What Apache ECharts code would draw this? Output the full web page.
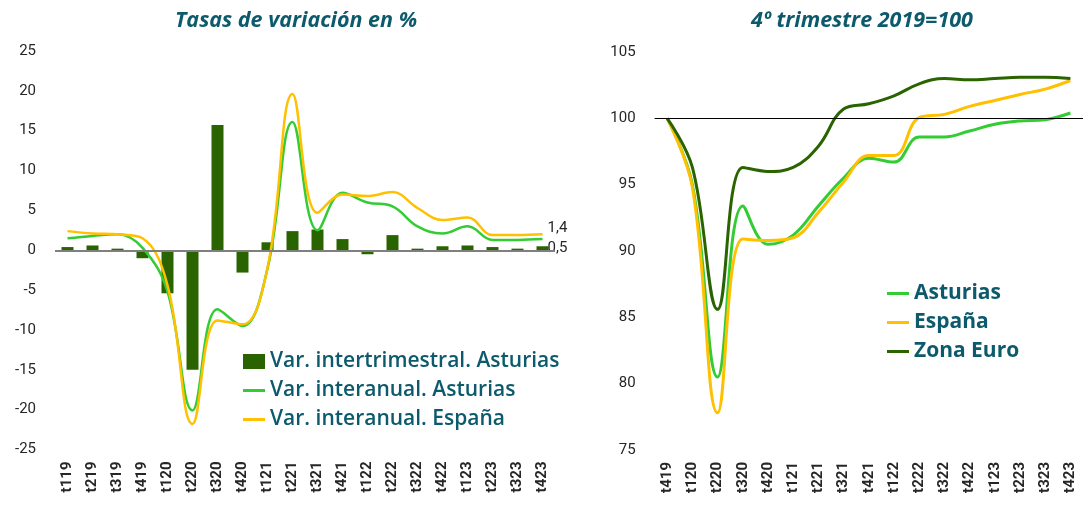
<!DOCTYPE html>
<html>
<head>
<meta charset="utf-8">
<script src="https://cdn.jsdelivr.net/npm/echarts@6/dist/echarts.min.js"></script>
<style>
html,body{margin:0;padding:0;background:#fff;}
#chart{width:1083px;height:507px;}
</style>
</head>
<body>
<div id="chart"></div>
<script>
// ---- Left chart data ----
const leftCategories = ['t119','t219','t319','t419','t120','t220','t320','t420','t121','t221','t321','t421','t122','t222','t322','t422','t123','t223','t323','t423'];
const varIntertrimAsturias = [0.4,0.6,0.2,-1.0,-5.4,-15.0,15.7,-2.8,1.0,2.4,2.6,1.4,-0.5,1.9,0.2,0.5,0.6,0.4,0.2,0.5];
const varInteranualAsturias = [1.5,1.8,2.0,0.3,-5.2,-20.1,-7.4,-9.5,-2.3,16.1,2.5,7.2,6.0,5.5,3.0,2.1,3.0,1.3,1.3,1.4];
const varInteranualEspana = [2.4,2.1,2.0,1.5,-4.4,-21.8,-8.8,-9.3,-2.2,19.6,4.7,7.0,6.8,7.3,5.3,3.8,4.1,1.9,1.9,2.0];
const leftTicks = [-25,-20,-15,-10,-5,0,5,10,15,20,25];

// ---- Right chart data ----
const rightCategories = ['t419','t120','t220','t320','t420','t121','t221','t321','t421','t122','t222','t322','t422','t123','t223','t323','t423'];
const indexAsturias = [100,95.0,80.5,93.4,90.5,91.2,93.4,95.5,97.0,96.7,98.6,98.6,99.05,99.55,99.8,99.9,100.4];
const indexEspana = [100,94.8,77.8,90.9,90.8,91.0,92.9,95.2,97.2,97.2,100.05,100.3,100.9,101.35,101.8,102.2,102.85];
const indexZonaEuro = [100,96.3,85.6,96.3,96.0,96.3,97.9,100.7,101.1,101.7,102.6,103.0,102.9,103.0,103.1,103.1,103.0];
const rightTicks = [75,80,85,90,95,100,105];

const FONT = 'Roboto, "Noto Sans", sans-serif';
const WIDE = '"Open Sans", Roboto, sans-serif';
const TEAL = '#0c5a6c';
const DARK = '#2a6400';
const LIGHT = '#33cc33';
const YELLOW = '#ffc000';
const LINE_ICON = 'path://M0,0 L22,0 L22,3 L0,3 Z';
const fmt = v => String(v).replace('.', ',');
const lastIdx = leftCategories.length - 1;

const chart = echarts.init(document.getElementById('chart'), null, {renderer: 'canvas'});

const xAxisCommon = {
  type: 'category',
  boundaryGap: true,
  axisLine: {show: false},
  axisTick: {show: false},
  axisLabel: {rotate: 90, fontFamily: FONT, fontSize: 15, fontWeight: 'bold', color: '#262626', margin: 12, interval: 0}
};
const yAxisCommon = {
  type: 'value',
  interval: 5,
  splitLine: {show: false},
  axisLine: {show: false},
  axisTick: {show: false},
  axisLabel: {fontFamily: FONT, fontSize: 15, color: '#262626', margin: 19}
};
const endLabel = {fontFamily: FONT, fontSize: 15, color: '#262626'};

chart.setOption({
  animation: false,
  backgroundColor: '#ffffff',
  title: [
    {text: 'Tasas de variación en %', left: 291, top: 5, textAlign: 'center',
     textStyle: {fontFamily: WIDE, fontSize: 21.5, fontStyle: 'italic', fontWeight: 'bold', color: TEAL}},
    {text: '4º trimestre 2019=100', left: 857, top: 5, textAlign: 'center',
     textStyle: {fontFamily: WIDE, fontSize: 21.5, fontStyle: 'italic', fontWeight: 'bold', color: TEAL}}
  ],
  grid: [
    {left: 55, top: 51, width: 500, height: 398.5},
    {left: 654.6, top: 52, width: 431.4, height: 398}
  ],
  legend: [
    {
      data: [
        {name: 'Var. intertrimestral. Asturias', icon: 'rect'},
        {name: 'Var. interanual. Asturias', icon: LINE_ICON},
        {name: 'Var. interanual. España', icon: LINE_ICON}
      ],
      orient: 'vertical', left: 243, top: 348, padding: 0, itemWidth: 22, itemHeight: 15, itemGap: 2,
      selectedMode: false,
      textStyle: {fontFamily: WIDE, fontSize: 21, fontWeight: 600, color: TEAL, lineHeight: 27}
    },
    {
      data: [
        {name: 'Asturias', icon: LINE_ICON},
        {name: 'España', icon: LINE_ICON},
        {name: 'Zona Euro', icon: LINE_ICON}
      ],
      orient: 'vertical', left: 887, top: 280, padding: 0, itemWidth: 22, itemHeight: 15, itemGap: 2,
      selectedMode: false,
      textStyle: {fontFamily: WIDE, fontSize: 21, fontWeight: 'bold', color: TEAL, lineHeight: 27}
    }
  ],
  xAxis: [
    Object.assign({}, xAxisCommon, {gridIndex: 0, data: leftCategories}),
    Object.assign({}, xAxisCommon, {gridIndex: 1, data: rightCategories})
  ],
  yAxis: [
    Object.assign({}, yAxisCommon, {gridIndex: 0, min: leftTicks[0], max: leftTicks[leftTicks.length - 1]}),
    Object.assign({}, yAxisCommon, {gridIndex: 1, min: rightTicks[0], max: rightTicks[rightTicks.length - 1]})
  ],
  series: [
    {
      name: 'Var. intertrimestral. Asturias', type: 'bar', xAxisIndex: 0, yAxisIndex: 0,
      barWidth: 12, itemStyle: {color: DARK},
      data: varIntertrimAsturias.map((v, i) => i === lastIdx ? {value: v, label: {show: true}} : v),
      label: Object.assign({show: false, position: 'right', offset: [-6, 0], formatter: p => fmt(p.value)}, endLabel),
      markLine: {silent: true, symbol: 'none', label: {show: false},
                 lineStyle: {color: '#7f7f7f', width: 2, type: 'solid'}, data: [{yAxis: 0}]},
      z: 2
    },
    {
      name: 'Var. interanual. Asturias', type: 'line', xAxisIndex: 0, yAxisIndex: 0,
      smooth: 0.4, symbol: 'circle', symbolSize: 0.1, showSymbol: true,
      lineStyle: {color: LIGHT, width: 2.5}, itemStyle: {color: LIGHT},
      data: varInteranualAsturias.map((v, i) => i === lastIdx ? {value: v, label: {show: true}} : v),
      label: Object.assign({show: false, position: 'right', offset: [0, -11], formatter: p => fmt(p.value)}, endLabel),
      z: 3
    },
    {
      name: 'Var. interanual. España', type: 'line', xAxisIndex: 0, yAxisIndex: 0,
      smooth: 0.4, symbol: 'none', lineStyle: {color: YELLOW, width: 2.5}, itemStyle: {color: YELLOW},
      data: varInteranualEspana, z: 3
    },
    {
      name: 'Asturias', type: 'line', xAxisIndex: 1, yAxisIndex: 1,
      smooth: 0.4, symbol: 'none', lineStyle: {color: LIGHT, width: 3}, itemStyle: {color: LIGHT},
      data: indexAsturias,
      markLine: {silent: true, symbol: 'none', label: {show: false},
                 lineStyle: {color: '#000000', width: 1, type: 'solid'}, data: [{yAxis: 100}]}
    },
    {
      name: 'España', type: 'line', xAxisIndex: 1, yAxisIndex: 1,
      smooth: 0.4, symbol: 'none', lineStyle: {color: YELLOW, width: 3}, itemStyle: {color: YELLOW},
      data: indexEspana
    },
    {
      name: 'Zona Euro', type: 'line', xAxisIndex: 1, yAxisIndex: 1,
      smooth: 0.4, symbol: 'none', lineStyle: {color: DARK, width: 3}, itemStyle: {color: DARK},
      data: indexZonaEuro
    }
  ]
});
</script>
</body>
</html>
